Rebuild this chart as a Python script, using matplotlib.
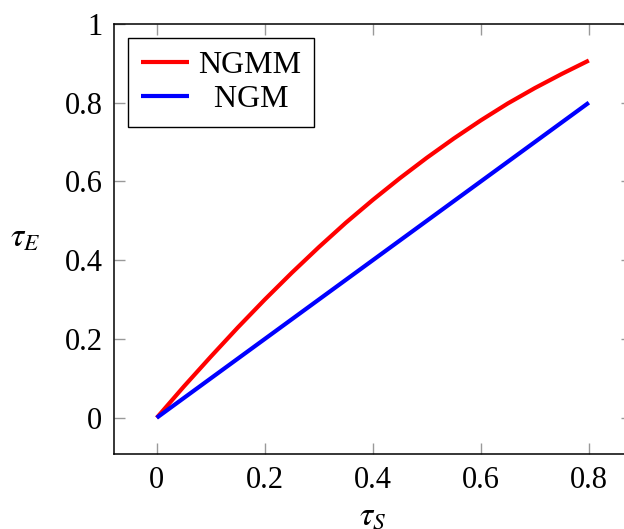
import matplotlib.pyplot as plt
import numpy as np

plt.rcParams['font.family'] = ['Liberation Serif', 'DejaVu Serif']
plt.rcParams['mathtext.fontset'] = 'stix'

tau_s = [0.0, 0.05, 0.1, 0.15, 0.2, 0.25, 0.3, 0.35, 0.4,
         0.45, 0.5, 0.55, 0.6, 0.65, 0.7, 0.75, 0.8]
ngmm = [0.0, 0.079, 0.155, 0.229, 0.300, 0.368, 0.433, 0.495, 0.553,
        0.608, 0.660, 0.709, 0.755, 0.798, 0.837, 0.873, 0.907]
ngm = [0.0, 0.05, 0.1, 0.15, 0.2, 0.25, 0.3, 0.35, 0.4,
       0.45, 0.5, 0.55, 0.6, 0.65, 0.7, 0.75, 0.8]

xticks = [0, 0.2, 0.4, 0.6, 0.8]
xticklabels = ['0', '0.2', '0.4', '0.6', '0.8']
yticks = [0, 0.2, 0.4, 0.6, 0.8, 1]
yticklabels = ['0', '0.2', '0.4', '0.6', '0.8', '1']

fig = plt.figure(figsize=(6.24, 5.29), dpi=100)
# right edge of the axes lies just past the image border (cropped like the original)
ax = fig.add_axes([0.1819, 0.1427, 0.831, 0.8127])

ax.plot(tau_s, ngmm, color='red', lw=3.0, label='NGMM', solid_capstyle='butt')
# two leading spaces so the shorter label sits centred under NGMM
ax.plot(tau_s, ngm, color='blue', lw=3.0, label='  NGM', solid_capstyle='butt')

ax.set_xlim(-0.08, 0.88)
ax.set_ylim(-0.0907, 1.0007)
ax.set_xticks(xticks)
ax.set_xticklabels(xticklabels)
ax.set_yticks(yticks)
ax.set_yticklabels(yticklabels)

ax.tick_params(direction='in', length=8, width=1, color='#999999',
               labelsize=22, top=True, right=True)
ax.tick_params(axis='x', pad=9)
ax.tick_params(axis='y', pad=8)
for s in ax.spines.values():
    s.set_linewidth(1.1)

ax.set_xlabel(r'$\tau_S$', fontsize=24, labelpad=4)
ax.set_ylabel(r'$\tau_E$', fontsize=24, rotation=0)
ax.yaxis.set_label_coords(-0.17, 0.465)

leg = ax.legend(loc='upper left', fontsize=23, frameon=True, fancybox=False,
                edgecolor='black', framealpha=1, handlelength=1.5,
                handletextpad=0.3, borderaxespad=0.45, borderpad=0.4,
                labelspacing=0.15)
leg.get_frame().set_linewidth(1.0)

fig.savefig('out.png', dpi=100)
